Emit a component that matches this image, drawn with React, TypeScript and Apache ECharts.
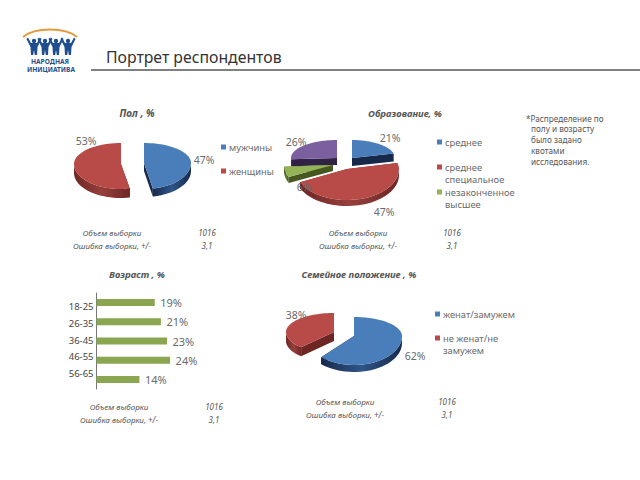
import React, { useEffect, useRef } from "react";
import * as echarts from "echarts";

const FONT = '"Noto Sans", sans-serif';
const GREY = "#6a6a6a";
const TEXT2 = "#555555";

const title = "Портрет респондентов";
const note = ["*Распределение по", "полу и возрасту", "было задано", "квотами", "исследования."];
const sampleLabel = "Объем выборки";
const errorLabel = "Ошибка выборки, +/-";
const sampleValue = "1016";
const errorValue = "3,1";

const genderNames = ["мужчины", "женщины"];
const genderValues = [47, 53];
const eduNames = ["среднее", "среднее\nспециальное", "незаконченное\nвысшее", ""];
const eduValues = [21, 47, 6, 26];
const familyNames = ["женат/замужем", "не женат/не\nзамужем"];
const familyValues = [62, 38];
const ageCategories = ["18-25", "26-35", "36-45", "46-55", "56-65"];
const ageValues = [19, 21, 23, 24, 14];

const TOPS = ["#4a7ebb", "#b84b48", "#94b356", "#7b5f9e"];
const SIDES: [string, string][] = [["#17294a", "#2f5588"], ["#6e2624", "#96403d"], ["#46581f", "#5f7a30"], ["#2f2244", "#4a3766"]];
const SLICE_COLORS = [TOPS[0], TOPS[1], TOPS[2]];

type SliceGeo = { ax: number; ay: number; rx: number; ryB: number; ryF: number; d: number; z: number; lx: number; ly: number };

const genderGeo: SliceGeo[] = [
  { ax: 144, ay: 163, rx: 47, ryB: 20, ryF: 26, d: 8, z: 1, lx: 204, ly: 160 },
  { ax: 121, ay: 164, rx: 47, ryB: 21, ryF: 25, d: 9, z: 1, lx: 86, ly: 141 },
];
const eduGeo: SliceGeo[] = [
  { ax: 352, ay: 158, rx: 43, ryB: 18, ryF: 18, d: 8, z: 1, lx: 390, ly: 138 },
  { ax: 347, ay: 169, rx: 52, ryB: 24, ryF: 31, d: 6, z: 2, lx: 384, ly: 212 },
  { ax: 333, ay: 165, rx: 49, ryB: 28, ryF: 28, d: 6, z: 4, lx: 304, ly: 187 },
  { ax: 337, ay: 158, rx: 46, ryB: 18, ryF: 18, d: 7, z: 3, lx: 296, ly: 142 },
];
const familyGeo: SliceGeo[] = [
  { ax: 354, ay: 336, rx: 48, ryB: 19, ryF: 29, d: 7, z: 1, lx: 415, ly: 356 },
  { ax: 334, ay: 332, rx: 48, ryB: 19, ryF: 21, d: 9, z: 1, lx: 296, ly: 315 },
];

function pieSeries(values: number[], geo: SliceGeo[]) {
  const total = values.reduce((a, b) => a + b, 0);
  return {
    type: "custom",
    coordinateSystem: "none",
    silent: true,
    data: values,
    renderItem: (params: any) => {
      const i = params.dataIndex;
      const g = geo[i];
      const before = values.slice(0, i).reduce((a, b) => a + b, 0);
      const a0 = (before / total) * Math.PI * 2;
      const a1 = ((before + values[i]) / total) * Math.PI * 2;
      const pt = (a: number, off = 0): number[] => {
        const c = Math.cos(a);
        return [g.ax + g.rx * Math.sin(a), g.ay - c * (c > 0 ? g.ryB : g.ryF) + off];
      };
      const steps = 48;
      const arc: number[][] = [];
      for (let k = 0; k <= steps; k++) arc.push(pt(a0 + ((a1 - a0) * k) / steps));
      const wall: number[][] = [];
      const wallLow: number[][] = [];
      for (let k = 0; k <= steps; k++) {
        const a = a0 + ((a1 - a0) * k) / steps;
        if (Math.cos(a) < 0.05) {
          wall.push(pt(a));
          wallLow.push(pt(a, g.d));
        }
      }
      const sideFill = new echarts.graphic.LinearGradient(0, 0, 1, 0, [
        { offset: 0, color: SIDES[i][0] },
        { offset: 0.5, color: SIDES[i][1] },
        { offset: 1, color: SIDES[i][0] },
      ]);
      const dark = SIDES[i][0];
      const quad = (a: number) => {
        const p = pt(a);
        return {
          type: "polygon",
          z2: g.z * 10,
          shape: { points: [[g.ax, g.ay], p, [p[0], p[1] + g.d], [g.ax, g.ay + g.d]] },
          style: { fill: dark },
        };
      };
      const children: any[] = [quad(a0), quad(a1)];
      if (wall.length > 1) {
        children.push({
          type: "polygon",
          z2: g.z * 10 + 1,
          shape: { points: [...wall, ...wallLow.reverse()] },
          style: { fill: sideFill },
        });
      }
      children.push({
        type: "polygon",
        z2: g.z * 10 + 2,
        shape: { points: [[g.ax, g.ay], ...arc] },
        style: { fill: TOPS[i] },
      });
      children.push({
        type: "text",
        z2: 100,
        x: g.lx,
        y: g.ly,
        style: { text: `${values[i]}%`, font: `10.5px ${FONT}`, fill: GREY, align: "center", verticalAlign: "middle" },
      });
      return { type: "group", children };
    },
  };
}

function txt(x: number, y: number, text: string, font: string, fill = TEXT2, align = "left") {
  return { type: "text", x, y, z: 5, style: { text, font, fill, align, verticalAlign: "middle", lineHeight: 13 } };
}

function stats(xl: number, xv: number, y: number) {
  const f = `italic 8px ${FONT}`;
  return [
    txt(xl, y, sampleLabel, f, TEXT2, "center"),
    txt(xv, y, sampleValue, f, TEXT2, "center"),
    txt(xl, y + 13, errorLabel, f, TEXT2, "center"),
    txt(xv, y + 13, errorValue, f, TEXT2, "center"),
  ];
}

function legendItems(names: string[], x: number, ys: number[]) {
  const out: any[] = [];
  names.forEach((n, i) => {
    if (!n) return;
    out.push({ type: "rect", x, y: ys[i] - 2.5, shape: { width: 5, height: 5 }, style: { fill: SLICE_COLORS[i] } });
    n.split("\n").forEach((line, j) => {
      out.push(txt(x + 8, ys[i] + j * 12.5, line, `9.4px ${FONT}`, GREY));
    });
  });
  return out;
}

const figuresX = [34, 45, 56, 68];

function logo() {
  const blue = "#1f4e8c";
  const parts: any[] = [
    {
      type: "bezierCurve",
      shape: { x1: 23, y1: 37, cpx1: 35, cpy1: 27, cpx2: 65, cpy2: 27, x2: 77, y2: 37 },
      style: { stroke: "#e39a3b", lineWidth: 2, fill: "none" },
    },
  ];
  figuresX.forEach((x) => {
    parts.push({ type: "circle", shape: { cx: x, cy: 41, r: 2.2 }, style: { fill: blue } });
    parts.push({
      type: "polygon",
      shape: { points: [[x - 6, 37.5], [x - 3, 43], [x + 3, 43], [x + 6, 37.5], [x + 7.5, 39], [x + 3.5, 47], [x + 3, 55], [x + 0.8, 55], [x, 50], [x - 0.8, 55], [x - 3, 55], [x - 3.5, 47], [x - 7.5, 39]] },
      style: { fill: blue },
    });
  });
  parts.push(txt(50, 61, "НАРОДНАЯ", `bold 6.6px ${FONT}`, blue, "center"));
  parts.push(txt(51, 69, "ИНИЦИАТИВА", `bold 6.6px ${FONT}`, blue, "center"));
  return parts;
}

export default function App() {
  const ref = useRef<HTMLDivElement>(null);
  useEffect(() => {
    const chart = echarts.init(ref.current!, null, { renderer: "svg" });
    const titleFont = `italic bold 9.5px ${FONT}`;
    chart.setOption({
      animation: false,
      backgroundColor: "#ffffff",
      grid: [
        { left: 96.5, top: 293, width: 92, height: 96 },
        { left: 96.5, top: 298.5, width: 92, height: 83.5 },
      ],
      xAxis: [
        { gridIndex: 0, type: "value", min: 0, max: 30, show: false },
        { gridIndex: 1, type: "value", min: 0, max: 30, show: false },
      ],
      yAxis: [
        {
          gridIndex: 0,
          type: "category",
          inverse: true,
          data: ageCategories,
          axisLine: { lineStyle: { color: "#777777" } },
          axisTick: { length: 3, lineStyle: { color: "#777777" } },
          axisLabel: { show: false },
        },
        {
          gridIndex: 1,
          type: "category",
          inverse: true,
          data: ageCategories,
          axisLine: { show: false },
          axisTick: { show: false },
          axisLabel: { margin: 3, color: "#444444", fontSize: 9.5, fontFamily: FONT },
        },
      ],
      series: [
        {
          type: "bar",
          xAxisIndex: 0,
          yAxisIndex: 0,
          data: ageValues,
          barWidth: 7,
          itemStyle: { color: "#8aa650" },
          label: { show: true, position: "right", distance: 5.5, formatter: "{c}%", color: GREY, fontSize: 11, fontFamily: FONT },
        },
        pieSeries(genderValues, genderGeo),
        pieSeries(eduValues, eduGeo),
        pieSeries(familyValues, familyGeo),
      ],
      graphic: [
        ...logo(),
        txt(106, 57, title, `15.8px ${FONT}`, "#333333"),
        { type: "line", shape: { x1: 91, y1: 70, x2: 640, y2: 70 }, style: { stroke: "#808080", lineWidth: 2 } },
        txt(137, 113, "Пол , %", `italic bold 10px ${FONT}`, TEXT2, "center"),
        txt(405, 113, "Образование, %", titleFont, TEXT2, "center"),
        txt(137, 274, "Возраст , %", titleFont, TEXT2, "center"),
        txt(359, 274, "Семейное положение , %", titleFont, TEXT2, "center"),
        ...note.map((l, i) => txt(i === 0 ? 526 : 531, 118 + i * 10.8, l, `8.2px ${FONT}`, "#555555")),
        ...legendItems(genderNames, 221, [147, 171]),
        ...legendItems(eduNames, 437, [142, 167, 192]),
        ...legendItems(familyNames, 435, [314, 338]),
        ...stats(112, 207, 232),
        ...stats(358, 452, 232),
        ...stats(119, 214, 406),
        ...stats(345, 447, 401),
      ],
    });
    return () => chart.dispose();
  }, []);
  return <div ref={ref} style={{ width: 640, height: 480, position: "fixed", left: 0, top: 0 }} />;
}
